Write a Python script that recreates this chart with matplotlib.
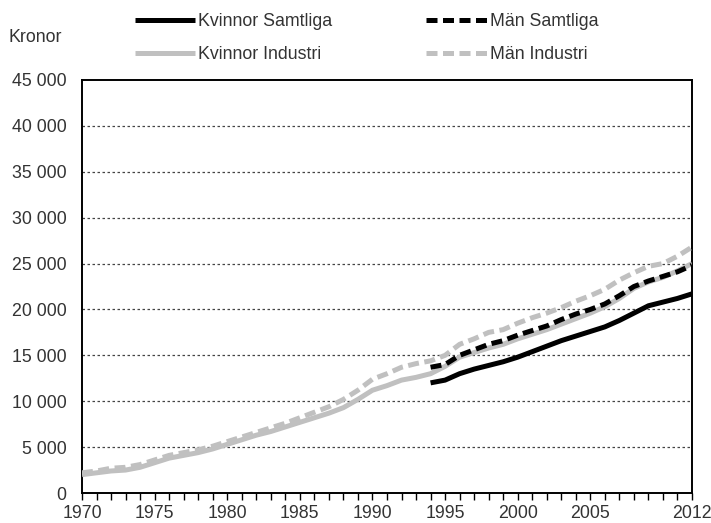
import numpy as np
import matplotlib.pyplot as plt
from matplotlib.ticker import FuncFormatter

plt.rcParams['font.family'] = ['Liberation Sans', 'DejaVu Sans']

# Data (kronor per month)
years_ind = list(range(1970, 2013))
kvinnor_industri = [2000, 2200, 2400, 2500, 2800, 3300, 3800, 4100, 4400, 4800,
                    5300, 5800, 6300, 6700, 7200, 7700, 8200, 8700, 9300, 10200,
                    11200, 11700, 12300, 12600, 13000, 13800, 14800, 15300, 15800, 16200,
                    16800, 17300, 17800, 18400, 19000, 19600, 20300, 21200, 22300, 23000,
                    23500, 24200, 25000]
man_industri = [2200, 2400, 2700, 2800, 3100, 3600, 4100, 4400, 4700, 5100,
                5600, 6100, 6600, 7100, 7600, 8200, 8800, 9400, 10200, 11200,
                12400, 13000, 13700, 14100, 14400, 15000, 16200, 16800, 17500, 17800,
                18500, 19100, 19600, 20200, 20900, 21500, 22200, 23200, 24000, 24700,
                25000, 25800, 26800]

years_all = list(range(1994, 2013))
kvinnor_samtliga = [12000, 12300, 13000, 13500, 13900, 14300, 14800, 15400, 16000, 16600,
                    17100, 17600, 18100, 18800, 19600, 20400, 20800, 21200, 21700]
man_samtliga = [13700, 14000, 15000, 15600, 16200, 16600, 17200, 17700, 18200, 18900,
                19500, 20000, 20600, 21500, 22500, 23100, 23600, 24100, 24800]

labeled_years = [1970, 1975, 1980, 1985, 1990, 1995, 2000, 2005, 2012]

black = '#000000'
gray = '#c0c0c0'
txt = '#333333'
lw = 3.6
fs = 12.8

fig = plt.figure(figsize=(7.11, 5.23), dpi=100)
ax = fig.add_axes([82 / 711, 1 - 493 / 523, 610 / 711, 413 / 523])

l1, = ax.plot(years_all, kvinnor_samtliga, color=black, lw=lw, solid_capstyle='butt',
              label='Kvinnor Samtliga', zorder=4)
l3, = ax.plot(years_ind, kvinnor_industri, color=gray, lw=lw, solid_capstyle='butt',
              label='Kvinnor Industri', zorder=3)
l2, = ax.plot(years_all, man_samtliga, color=black, lw=lw, dashes=(2.2, 1.1),
              dash_capstyle='butt', label='Män Samtliga', zorder=4)
l4, = ax.plot(years_ind, man_industri, color=gray, lw=lw, dashes=(2.2, 1.1),
              dash_capstyle='butt', label='Män Industri', zorder=3)

ax.set_xlim(1970, 2012)
ax.set_ylim(0, 45000)
ax.set_yticks(np.arange(0, 45001, 5000))
ax.yaxis.set_major_formatter(FuncFormatter(lambda v, p: f'{int(v):,}'.replace(',', ' ')))
ax.set_xticks(years_ind)
ax.set_xticklabels([str(y) if y in labeled_years else '' for y in years_ind])

ax.tick_params(axis='y', length=0, pad=11, labelsize=fs, labelcolor=txt)
ax.tick_params(axis='x', length=5, width=1, pad=4, labelsize=fs, labelcolor=txt)

for v in range(5000, 45000, 5000):
    ax.axhline(v, color='#444444', lw=0.9, linestyle=(0, (2, 2)), zorder=1)

for s in ax.spines.values():
    s.set_linewidth(1.4)
    s.set_color('black')

fig.text(8 / 711, 1 - 37 / 523, 'Kronor', fontsize=fs, va='center', ha='left', color=txt)

fig.legend(handles=[l1, l3, l2, l4], ncol=2, loc='upper left',
           bbox_to_anchor=(135 / 711, 1 - 13 / 523), frameon=False,
           fontsize=fs, handlelength=3.4, handletextpad=0.15,
           columnspacing=5.3, labelspacing=0.9, borderpad=0, borderaxespad=0,
           labelcolor=txt)

plt.savefig('out.png', dpi=100)
